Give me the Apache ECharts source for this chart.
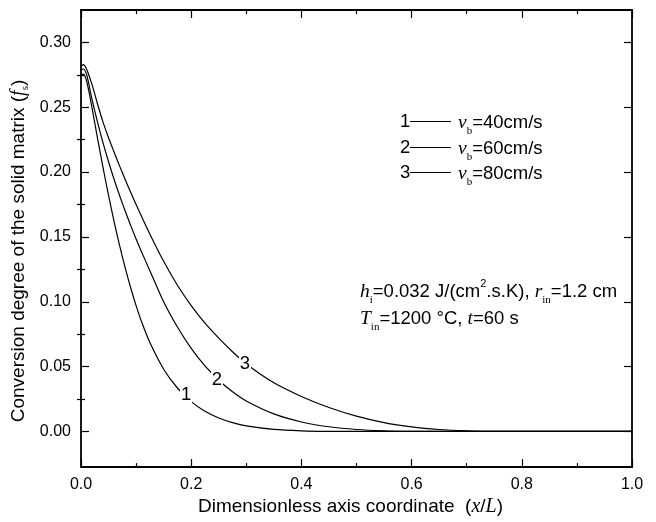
<!DOCTYPE html>
<html><head><meta charset="utf-8">
<script src="https://cdn.jsdelivr.net/npm/echarts@6/dist/echarts.min.js"></script>
<style>html,body{margin:0;padding:0;background:#fff}#c{width:656px;height:522px}</style>
</head><body><div id="c"></div>
<script>
// ---- data ----
const yMajorTicks = [0, 0.05, 0.10, 0.15, 0.20, 0.25, 0.30];
const yMinorTicks = [0.025, 0.075, 0.125, 0.175, 0.225, 0.275];

// curve 1: vb = 40 cm/s
const x40 = [0, 0.004, 0.01, 0.02, 0.03, 0.04, 0.05, 0.06, 0.07, 0.08, 0.09, 0.10, 0.11, 0.125, 0.15, 0.175, 0.20, 0.225, 0.25, 0.275, 0.30, 0.35, 0.40, 0.45, 0.5, 0.6, 0.7, 0.8, 0.9, 1.0];
const f40 = [0.2745, 0.2755, 0.2705, 0.2495, 0.226, 0.2035, 0.1820, 0.1620, 0.1435, 0.1265, 0.1110, 0.0970, 0.0845, 0.0685, 0.0480, 0.0335, 0.0230, 0.0156, 0.0104, 0.0068, 0.0043, 0.0016, 0.0005, 0.0001, 0, 0, 0, 0, 0, 0];
// curve 2: vb = 60 cm/s
const x60 = [0, 0.004, 0.01, 0.02, 0.03, 0.04, 0.05, 0.06, 0.07, 0.08, 0.09, 0.10, 0.11, 0.125, 0.15, 0.175, 0.20, 0.225, 0.25, 0.275, 0.30, 0.35, 0.40, 0.45, 0.50, 0.55, 0.6, 0.65, 0.7, 0.8, 0.9, 1.0];
const f60 = [0.2785, 0.2795, 0.2755, 0.256, 0.2385, 0.2225, 0.2080, 0.1945, 0.1820, 0.1702, 0.1590, 0.1484, 0.1383, 0.1240, 0.1000, 0.0805, 0.0640, 0.0505, 0.0395, 0.0306, 0.0235, 0.0135, 0.0073, 0.0036, 0.0015, 0.0005, 0.0001, 0, 0, 0, 0, 0];
// curve 3: vb = 80 cm/s
const x80 = [0, 0.004, 0.01, 0.02, 0.03, 0.04, 0.05, 0.06, 0.07, 0.08, 0.09, 0.10, 0.11, 0.125, 0.15, 0.175, 0.20, 0.225, 0.25, 0.275, 0.30, 0.35, 0.40, 0.45, 0.50, 0.55, 0.60, 0.65, 0.70, 0.75, 0.8, 0.9, 1.0];
const f80 = [0.2815, 0.2828, 0.2795, 0.2675, 0.2525, 0.2385, 0.2265, 0.2155, 0.2048, 0.1945, 0.1846, 0.1750, 0.1657, 0.1522, 0.1312, 0.1127, 0.0970, 0.0835, 0.0720, 0.0615, 0.0520, 0.0375, 0.0270, 0.0185, 0.0118, 0.0068, 0.0035, 0.0015, 0.0005, 0.0001, 0, 0, 0];

const curveLabels = ['1', '2', '3'];
const labelX = [0.1906, 0.2468, 0.2976];
const labelY = [0.0282, 0.0397, 0.0523];

const legendNums = ['1', '2', '3'];
const legendSpeeds = ['=40cm/s', '=60cm/s', '=80cm/s'];

// ---- chart ----
const SANS = '"Liberation Sans", Arial, Helvetica, sans-serif';
const SERIF = '"Liberation Serif", "Times New Roman", serif';
const zip = (xs, ys) => xs.map((x, i) => [x, ys[i]]);

const chart = echarts.init(document.getElementById('c'), null, {renderer: 'canvas'});

const lineSeries = (name, xs, ys) => ({
  name, type: 'line', data: zip(xs, ys), smooth: 0.3, showSymbol: false, symbol: 'none',
  lineStyle: {color: '#000', width: 1.2}, xAxisIndex: 0, yAxisIndex: 0, z: 2, animation: false
});

const FS = 18.5;
const richSub = {
  n: {fontFamily: SANS, fontSize: FS, color: '#000', lineHeight: 28},
  it: {fontFamily: SERIF, fontStyle: 'italic', fontSize: FS + 1, color: '#000', lineHeight: 28},
  sub: {fontFamily: SERIF, fontSize: 11, color: '#000', lineHeight: 10, verticalAlign: 'bottom'},
  sup: {fontFamily: SANS, fontSize: 11, color: '#000', lineHeight: 10, verticalAlign: 'top'}
};

const graphics = [];
const legendRowY = [121.5, 147.5, 172.5];
legendNums.forEach((n, i) => {
  const y = legendRowY[i];
  graphics.push({type: 'text', x: 400, y: y, style: {text: n, font: FS + 'px ' + SANS, fill: '#000', textVerticalAlign: 'middle', textAlign: 'left'}});
  graphics.push({type: 'line', shape: {x1: 410, y1: y, x2: 451, y2: y}, style: {stroke: '#000', lineWidth: 1.1}});
  graphics.push({type: 'text', x: 458, y: y + 1, style: {
    text: '{it|v}{sub|b}{n|' + legendSpeeds[i] + '}', rich: richSub, textVerticalAlign: 'middle', textAlign: 'left'}});
});
graphics.push({type: 'text', x: 360, y: 292, style: {
  text: '{it|h}{sub|i}{n|=0.032 J/(cm}{sup|2}{n|.s.K), }{it|r}{sub|in}{n|=1.2 cm}', rich: richSub, textVerticalAlign: 'middle', textAlign: 'left'}});
graphics.push({type: 'text', x: 360, y: 319, style: {
  text: '{it|T}{sub|in}{n|=1200 °C, }{it|t}{n|=60 s}', rich: richSub, textVerticalAlign: 'middle', textAlign: 'left'}});
// y-axis title
graphics.push({type: 'text', x: 19, y: 251, rotation: Math.PI / 2, style: {
  text: '{n|Conversion degree of the solid matrix (}{it|f}{sub|s}{n|)}',
  rich: {
    n: {fontFamily: SANS, fontSize: 19, color: '#000', lineHeight: 24},
    it: {fontFamily: SERIF, fontStyle: 'italic', fontSize: 20, color: '#000', lineHeight: 24},
    sub: {fontFamily: SERIF, fontSize: 11, color: '#000', lineHeight: 12, verticalAlign: 'bottom'}},
  textAlign: 'center', textVerticalAlign: 'middle'}});

const axisLineStyle = {color: '#000', width: 1.8};
const tickStyle = {color: '#000', width: 1.2};
const yMin = -0.0275, yMax = 0.325;

const option = {
  animation: false,
  backgroundColor: '#fff',
  grid: {left: 81, right: 24, top: 10, bottom: 53, containLabel: false},
  xAxis: [
    {type: 'value', min: 0, max: 1, interval: 0.2, position: 'bottom',
     axisLine: {show: true, onZero: false, lineStyle: axisLineStyle},
     axisTick: {show: true, inside: true, length: 8, lineStyle: tickStyle},
     minorTick: {show: true, splitNumber: 2, length: 4, lineStyle: tickStyle},
     splitLine: {show: false}, minorSplitLine: {show: false},
     axisLabel: {color: '#000', fontFamily: SANS, fontSize: 16, margin: 9, formatter: v => v.toFixed(1)},
     name: '{n|Dimensionless axis coordinate  (}{it|x}{n|/}{it|L}{n|)}',
     nameLocation: 'middle', nameGap: 28,
     nameTextStyle: {padding: [0, 12, 0, 0], rich: {
       n: {fontFamily: SANS, fontSize: 19, color: '#000'},
       it: {fontFamily: SERIF, fontStyle: 'italic', fontSize: 20, color: '#000'}}}
    },
    {type: 'value', min: 0, max: 1, interval: 0.2, position: 'top',
     axisLine: {show: true, onZero: false, lineStyle: axisLineStyle},
     axisTick: {show: true, inside: true, length: 8, lineStyle: tickStyle},
     minorTick: {show: true, splitNumber: 2, length: 4, lineStyle: tickStyle},
     splitLine: {show: false}, axisLabel: {show: false}}
  ],
  yAxis: [
    {type: 'value', min: yMin, max: yMax, position: 'left',
     axisLine: {show: true, onZero: false, lineStyle: axisLineStyle},
     axisTick: {show: true, inside: true, length: 8, customValues: yMajorTicks, lineStyle: tickStyle},
     splitLine: {show: false},
     axisLabel: {color: '#000', fontFamily: SANS, fontSize: 16, margin: 10, customValues: yMajorTicks, formatter: v => v.toFixed(2)}
    },
    {type: 'value', min: yMin, max: yMax, position: 'left',
     axisLine: {show: false},
     axisTick: {show: true, inside: true, length: 4, customValues: yMinorTicks, lineStyle: tickStyle},
     splitLine: {show: false}, axisLabel: {show: false}},
    {type: 'value', min: yMin, max: yMax, position: 'right',
     axisLine: {show: true, onZero: false, lineStyle: axisLineStyle},
     axisTick: {show: true, inside: true, length: 8, customValues: yMajorTicks, lineStyle: tickStyle},
     splitLine: {show: false}, axisLabel: {show: false}},
    {type: 'value', min: yMin, max: yMax, position: 'right',
     axisLine: {show: false},
     axisTick: {show: true, inside: true, length: 4, customValues: yMinorTicks, lineStyle: tickStyle},
     splitLine: {show: false}, axisLabel: {show: false}}
  ],
  series: [
    lineSeries('vb=40cm/s', x40, f40),
    lineSeries('vb=60cm/s', x60, f60),
    lineSeries('vb=80cm/s', x80, f80),
    {type: 'scatter', xAxisIndex: 0, yAxisIndex: 0, z: 5, silent: true,
     data: zip(labelX, labelY), symbol: 'rect', symbolSize: [12, 18],
     itemStyle: {color: '#fff', opacity: 1},
     label: {show: true, position: 'inside', color: '#000', fontFamily: SANS, fontSize: 18.5,
       formatter: p => curveLabels[p.dataIndex]}}
  ],
  graphic: graphics
};
chart.setOption(option);
</script>
</body></html>
